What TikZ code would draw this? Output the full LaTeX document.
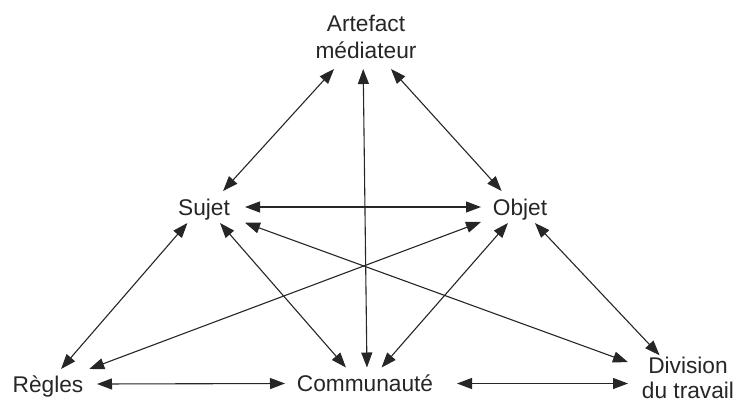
\documentclass[tikz,border=0pt]{standalone}
\usepackage{fontspec}
\setmainfont{Liberation Sans}
\usetikzlibrary{arrows.meta}
\begin{document}
\begin{tikzpicture}[x=1pt,y=-1pt,
  lbl/.style={inner sep=0pt, outer sep=0pt, font=\fontsize{22.7}{27}\selectfont, text=black!85},
  one/.style={lbl, text height=16pt, text depth=0pt},
  link/.style={line width=1.1pt, draw=black!85, {Triangle[length=15pt,width=11pt]}-{Triangle[length=15pt,width=11pt]}}
]
\useasboundingbox (0,0) rectangle (736,405);
\node[lbl, align=center, minimum width=100pt, minimum height=64pt] (a) at (366,37) {Artefact\\médiateur};
\node[one, minimum width=82pt, minimum height=32pt] (s) at (204,207) {Sujet};
\node[one, minimum width=78pt, minimum height=32pt] (o) at (520,207) {Objet};
\node[one, minimum width=98pt, minimum height=30pt] (r) at (48,384) {Règles};
\node[one, minimum width=160pt, minimum height=32pt] (c) at (365,383.5) {Communauté};
\node[lbl, font=\fontsize{22.7}{25}\selectfont, align=center, minimum width=120pt, minimum height=46pt] (d) at (688,378.25) {Division\\du travail};

\draw[link] (a.-135) -- (s.40);
\draw[link] (a.-95) -- (c.83);
\draw[link] (a.-52) -- (o.139);
\draw[link] (s.east) -- (o.west);
\draw[link] (s.-21) -- (d.165);
\draw[link] (o.201) -- (r.20);
\draw[link] (s.-136) -- (r.49);
\draw[link] (s.-45) -- (c.140);
\draw[link] (o.-127) -- (c.44);
\draw[link] (o.-47) -- (d.141);
\draw[link] (r.east) -- (c.west);
\draw[link] ([xshift=12pt]c.east) -- (c.east -| d.west);
\end{tikzpicture}
\end{document}
